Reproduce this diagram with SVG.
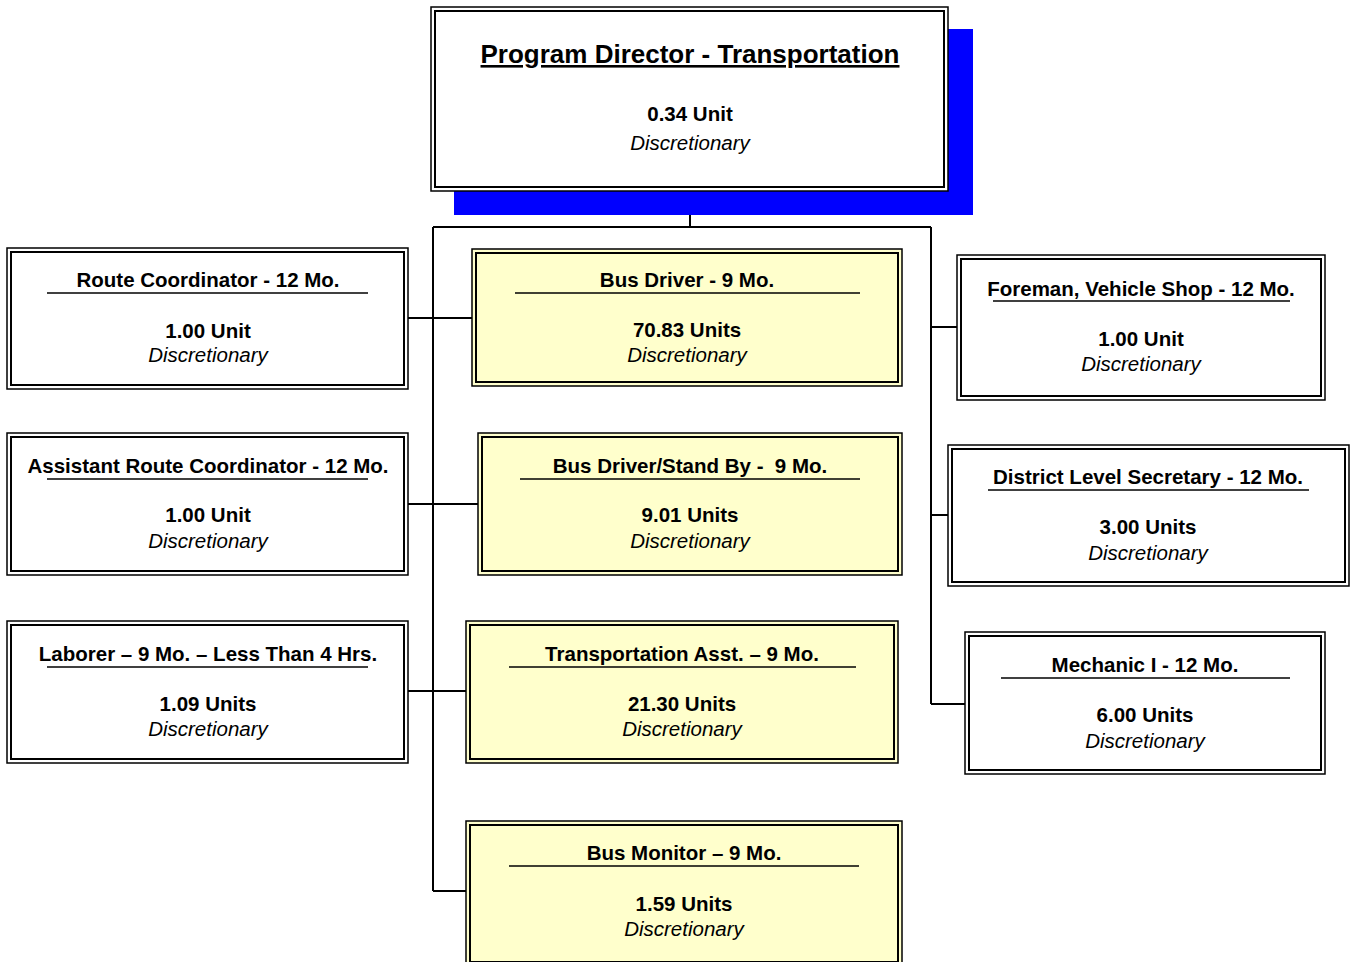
<svg xmlns="http://www.w3.org/2000/svg" width="1354" height="962" viewBox="0 0 1354 962">
<style>
.o{fill:#fff;stroke:#000;stroke-width:1.5}
.y{fill:#ffffcc}
.i{fill:none;stroke:#000;stroke-width:2}
.u{stroke:#000;stroke-width:1.5}
.c{fill:none;stroke:#000;stroke-width:2}
text{font-family:"Liberation Sans",Arial,sans-serif;font-size:20.5px;text-anchor:middle;fill:#000}
.b{font-weight:bold}
.it{font-style:italic}
</style>
<rect width="1354" height="962" fill="#fff"/>
<g id="connectors">
<path class="c" d="M690 191V227M433 227H931M433 227V891M931 227V704M407 318H475M408 504H480M408 691H467M433 891H467M931 327H958M931 515H949M931 704H966"/>
</g>
<g id="director">
<rect x="454" y="29" width="519" height="186" fill="#0000ff"/>
<rect class="o" x="431" y="7" width="517" height="184"/>
<rect class="i" x="435" y="11" width="509" height="176"/>
<text x="690" y="63" class="b" style="font-size:26px;text-decoration:underline">Program Director - Transportation</text>
<text x="690" y="121" class="b">0.34 Unit</text>
<text x="690" y="150" class="it">Discretionary</text>
</g>
<g id="route-coordinator">
<rect class="o" x="7" y="248" width="401" height="141"/>
<rect class="i" x="11" y="252" width="393" height="133"/>
<text x="208" y="287" class="b">Route Coordinator - 12 Mo.</text>
<line class="u" x1="47" y1="293" x2="368" y2="293"/>
<text x="208" y="338" class="b">1.00 Unit</text>
<text x="208" y="362" class="it">Discretionary</text>
</g>
<g id="assistant-route-coordinator">
<rect class="o" x="7" y="433" width="401" height="142"/>
<rect class="i" x="11" y="437" width="393" height="134"/>
<text x="208" y="473" class="b">Assistant Route Coordinator - 12 Mo.</text>
<line class="u" x1="47" y1="479" x2="368" y2="479"/>
<text x="208" y="522" class="b">1.00 Unit</text>
<text x="208" y="548" class="it">Discretionary</text>
</g>
<g id="laborer">
<rect class="o" x="7" y="621" width="401" height="142"/>
<rect class="i" x="11" y="625" width="393" height="134"/>
<text x="208" y="661" class="b">Laborer – 9 Mo. – Less Than 4 Hrs.</text>
<line class="u" x1="47" y1="667" x2="368" y2="667"/>
<text x="208" y="711" class="b">1.09 Units</text>
<text x="208" y="736" class="it">Discretionary</text>
</g>
<g id="bus-driver">
<rect class="o y" x="472" y="249" width="430" height="137"/>
<rect class="i" x="476" y="253" width="422" height="129"/>
<text x="687" y="287" class="b">Bus Driver - 9 Mo.</text>
<line class="u" x1="515" y1="293" x2="860" y2="293"/>
<text x="687" y="337" class="b">70.83 Units</text>
<text x="687" y="362" class="it">Discretionary</text>
</g>
<g id="bus-driver-standby">
<rect class="o y" x="478" y="433" width="424" height="142"/>
<rect class="i" x="482" y="437" width="416" height="134"/>
<text x="690" y="473" class="b" style="white-space:pre">Bus Driver/Stand By -  9 Mo.</text>
<line class="u" x1="520" y1="479" x2="860" y2="479"/>
<text x="690" y="522" class="b">9.01 Units</text>
<text x="690" y="548" class="it">Discretionary</text>
</g>
<g id="transportation-asst">
<rect class="o y" x="466" y="621" width="432" height="142"/>
<rect class="i" x="470" y="625" width="424" height="134"/>
<text x="682" y="661" class="b">Transportation Asst. – 9 Mo.</text>
<line class="u" x1="509" y1="667" x2="856" y2="667"/>
<text x="682" y="711" class="b">21.30 Units</text>
<text x="682" y="736" class="it">Discretionary</text>
</g>
<g id="bus-monitor">
<rect class="o y" x="466" y="821" width="436" height="145"/>
<rect class="i" x="470" y="825" width="428" height="137"/>
<text x="684" y="860" class="b">Bus Monitor – 9 Mo.</text>
<line class="u" x1="509" y1="866" x2="859" y2="866"/>
<text x="684" y="911" class="b">1.59 Units</text>
<text x="684" y="936" class="it">Discretionary</text>
</g>
<g id="foreman">
<rect class="o" x="957" y="255" width="368" height="145"/>
<rect class="i" x="961" y="259" width="360" height="137"/>
<text x="1141" y="296" class="b">Foreman, Vehicle Shop - 12 Mo.</text>
<line class="u" x1="993" y1="301" x2="1290" y2="301"/>
<text x="1141" y="346" class="b">1.00 Unit</text>
<text x="1141" y="371" class="it">Discretionary</text>
</g>
<g id="district-secretary">
<rect class="o" x="948" y="445" width="401" height="141"/>
<rect class="i" x="952" y="449" width="393" height="133"/>
<text x="1148" y="484" class="b">District Level Secretary - 12 Mo.</text>
<line class="u" x1="988" y1="490" x2="1309" y2="490"/>
<text x="1148" y="534" class="b">3.00 Units</text>
<text x="1148" y="560" class="it">Discretionary</text>
</g>
<g id="mechanic">
<rect class="o" x="965" y="632" width="360" height="142"/>
<rect class="i" x="969" y="636" width="352" height="134"/>
<text x="1145" y="672" class="b">Mechanic I - 12 Mo.</text>
<line class="u" x1="1001" y1="678" x2="1290" y2="678"/>
<text x="1145" y="722" class="b">6.00 Units</text>
<text x="1145" y="748" class="it">Discretionary</text>
</g>
</svg>
